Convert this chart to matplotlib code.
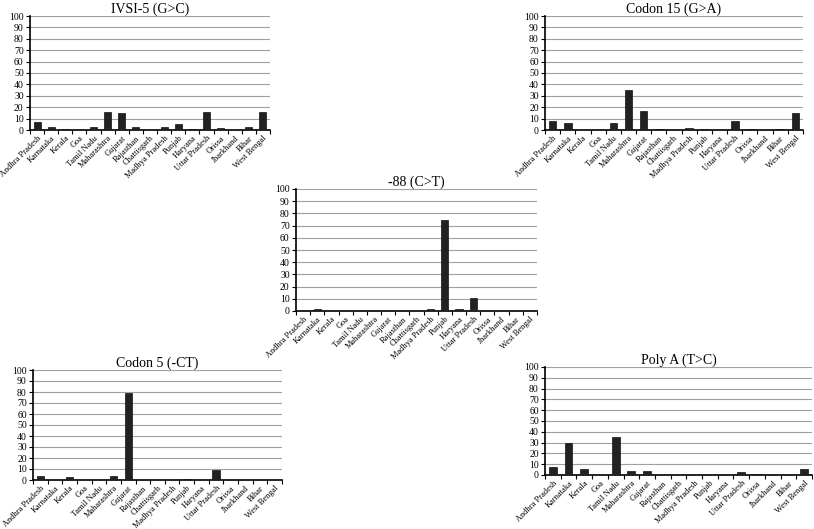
import numpy as np
import matplotlib
matplotlib.use("Agg")
import matplotlib.pyplot as plt

states = ["Andhra Pradesh", "Karnataka", "Kerala", "Goa", "Tamil Nadu", "Maharashtra",
          "Gujarat", "Rajasthan", "Chattisgarh", "Madhya Pradesh", "Punjab", "Haryana",
          "Uttar Pradesh", "Orissa", "Jharkhand", "Bihar", "West Bengal"]

ivsi5 = [7, 3, 0.5, 0, 3, 15.5, 14.5, 2.5, 0, 2.5, 5, 0.5, 16, 2, 0, 2.5, 15.5]
codon15 = [8, 6.5, 0, 0, 6, 35.5, 16.5, 0.5, 0, 2, 0.5, 0, 7.5, 0.5, 0, 1.2, 14.5]
c88 = [0, 1.5, 0, 0, 0, 0, 0, 0, 0, 1.5, 74.5, 1.5, 11, 0, 0, 0, 0]
codon5 = [3.5, 0, 2.5, 0, 0, 3.5, 79.5, 0, 0, 0, 1, 0, 9, 0, 0, 0, 0]
polya = [7.5, 29.5, 5.5, 0, 35.5, 4, 4, 0, 0, 0, 0, 0, 2.5, 1, 0, 0, 5.5]

titles = ["IVSI-5 (G>C)", "Codon 15 (G>A)", "-88 (C>T)", "Codon 5 (-CT)", "Poly A (T>C)"]
series = [ivsi5, codon15, c88, codon5, polya]
# panel boxes in pixels: left, right, top, bottom
boxes = [(30, 270, 16, 130), (545, 803, 16, 130), (296, 537, 189, 311),
         (33, 282, 370, 480), (545, 812, 367, 475)]

W, H = 814, 529
plt.rcParams['font.family'] = ['Liberation Serif', 'DejaVu Serif']
fig = plt.figure(figsize=(W / 100, H / 100), dpi=100)

x = np.arange(len(states))
for title, vals, (l, r, t, b) in zip(titles, series, boxes):
    ax = fig.add_axes([l / W, (H - b) / H, (r - l) / W, (b - t) / H])
    ax.bar(x, vals, width=0.5, color="#222222", edgecolor="#111111", linewidth=0.5, zorder=3)
    ax.set_xlim(-0.5, len(states) - 0.5)
    ax.set_ylim(0, 100)
    ax.set_yticks(range(0, 101, 10))
    ax.yaxis.grid(True, color="#a0a0a0", linewidth=0.8, zorder=0)
    ax.set_xticks(x)
    ax.set_xticklabels(states, rotation=45, ha="right", rotation_mode="anchor", fontsize=6)
    ax.set_xticks(np.arange(-0.5, len(states)), minor=True)
    ax.tick_params(axis="x", which="major", length=0, pad=3)
    ax.tick_params(axis="x", which="minor", length=3, width=0.8, direction="out")
    ax.tick_params(axis="y", labelsize=7, length=3, width=0.8, pad=1.5)
    for s in ["top", "right"]:
        ax.spines[s].set_visible(False)
    ax.spines["left"].set_linewidth(1.2)
    ax.spines["bottom"].set_linewidth(1.2)
    ax.set_title(title, fontsize=10, pad=2)

fig.savefig("out.png", dpi=100)
